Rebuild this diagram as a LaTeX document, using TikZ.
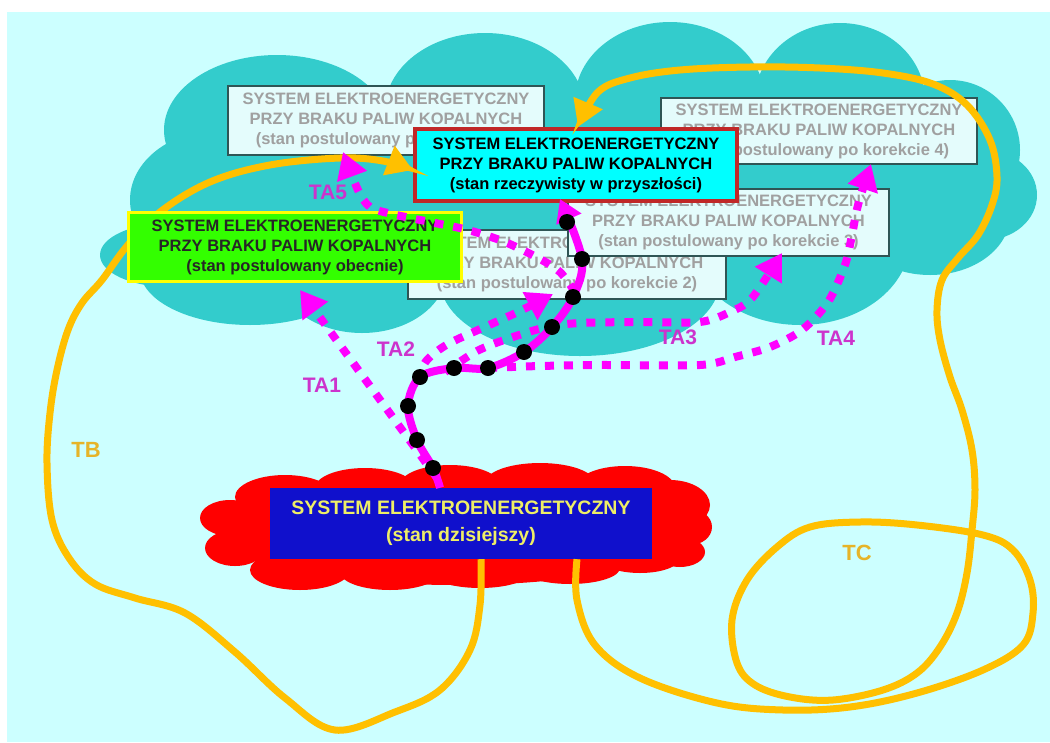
\documentclass[tikz,border=0pt]{standalone}
\usepackage{fontspec}
\setmainfont{Liberation Sans}
\usetikzlibrary{arrows.meta}
\definecolor{bgc}{RGB}{204,255,255}
\definecolor{cloudc}{RGB}{51,204,204}
\definecolor{redc}{RGB}{255,0,0}
\definecolor{gfill}{RGB}{228,252,252}
\definecolor{gbord}{RGB}{47,85,85}
\definecolor{gtext}{RGB}{160,160,160}
\definecolor{futfill}{RGB}{0,255,255}
\definecolor{futbord}{RGB}{192,40,40}
\definecolor{greenc}{RGB}{51,255,0}
\definecolor{yel}{RGB}{255,255,0}
\definecolor{bluec}{RGB}{16,16,204}
\definecolor{bluetext}{RGB}{238,238,102}
\definecolor{mag}{RGB}{255,0,255}
\definecolor{orng}{RGB}{255,192,0}
\definecolor{talab}{RGB}{204,51,204}
\definecolor{tblab}{RGB}{230,180,40}
\begin{document}
\begin{tikzpicture}[x=1pt,y=-1pt,
  boxfont/.style={font=\bfseries\fontsize{16.5}{20}\selectfont},
  graybox/.style={boxfont, draw=gbord, line width=2pt, fill=gfill, text=gtext, align=center, inner sep=0pt},
  futurebox/.style={boxfont, draw=futbord, line width=4pt, fill=futfill, text=black, align=center, inner sep=0pt},
  greenbox/.style={boxfont, draw=yel, line width=3pt, fill=greenc, text=black!85, align=center, inner sep=0pt},
  todaybox/.style={font=\bfseries\fontsize{19.5}{27}\selectfont, fill=bluec, text=bluetext, align=center, inner sep=0pt},
  tadash/.style={draw=mag, line width=8pt, dash pattern=on 9pt off 10pt, -{Triangle[length=26pt,width=30pt]}},
  mainpath/.style={draw=mag, line width=8pt, -{Triangle[length=22pt,width=26pt]}},
  blackdot/.style={circle, fill=black, inner sep=0pt, minimum size=16pt},
  orangeline/.style={draw=orng, line width=7pt, -{Triangle[length=26pt,width=30pt]}},
  talabel/.style={text=talab, font=\bfseries\fontsize{21}{24}\selectfont, inner sep=0pt},
  tlabel/.style={text=tblab, font=\bfseries\fontsize{22}{24}\selectfont, inner sep=0pt}
]
\useasboundingbox (0,0) rectangle (1050,742);
\fill[white] (0,0) rectangle (1050,742);
\fill[bgc] (7,12) rectangle (1050,742);

% teal cloud
\fill[cloudc] (200,130) rectangle (930,262);
\foreach \cx/\cy/\rx/\ry in {277/130/113/75, 485/110/100/77, 670/100/95/78, 840/100/85/77,
  950/150/70/70, 985/195/52/45, 220/200/90/70, 170/255/70/32, 250/270/110/55,
  362/270/85/63, 580/280/140/76, 800/240/110/85, 930/215/80/60}
  \fill[cloudc] (\cx,\cy) ellipse [x radius=\rx pt, y radius=\ry pt];

% red cloud
\fill[redc] (455,530) ellipse [x radius=240pt, y radius=55pt];
\foreach \cx/\cy/\rx/\ry in {285/497/50/22, 365/488/50/20, 450/485/50/20, 540/483/55/20,
  625/488/50/22, 670/505/40/25, 230/518/30/18, 235/548/30/18, 690/527/22/18, 680/552/25/15,
  300/570/50/20, 390/572/50/18, 480/572/50/16, 570/568/50/16, 640/558/40/15}
  \fill[redc] (\cx,\cy) ellipse [x radius=\rx pt, y radius=\ry pt];

% grey (postulated) boxes
\node[graybox, minimum width=318pt, minimum height=69pt] (k2) at (567,264)
  {SYSTEM ELEKTROENERGETYCZNY\\PRZY BRAKU PALIW KOPALNYCH\\(stan postulowany po korekcie 2)};
\node[graybox, minimum width=321pt, minimum height=67pt] (k3) at (728.5,222.5)
  {SYSTEM ELEKTROENERGETYCZNY\\PRZY BRAKU PALIW KOPALNYCH\\(stan postulowany po korekcie 3)};
\node[graybox, minimum width=316pt, minimum height=69pt] (k1) at (386,120.5)
  {SYSTEM ELEKTROENERGETYCZNY\\PRZY BRAKU PALIW KOPALNYCH\\(stan postulowany po korekcie 1)};
\node[graybox, minimum width=316pt, minimum height=66pt] (k4) at (819,131)
  {SYSTEM ELEKTROENERGETYCZNY\\PRZY BRAKU PALIW KOPALNYCH\\(stan postulowany po korekcie 4)};

% main boxes
\node[todaybox, minimum width=382pt, minimum height=71pt] (today) at (461,523.5)
  {SYSTEM ELEKTROENERGETYCZNY\\(stan dzisiejszy)};
\node[futurebox, minimum width=322pt, minimum height=72pt] (future) at (576,165)
  {SYSTEM ELEKTROENERGETYCZNY\\PRZY BRAKU PALIW KOPALNYCH\\(stan rzeczywisty w przyszłości)};

% orange curves TB and TC
\coordinate (tbS) at ([xshift=20pt]today.south);
\coordinate (tbE) at ([yshift=-5pt]future.west);
\coordinate (tcS) at ([xshift=116pt]today.south);
\coordinate (tcE) at ([xshift=2pt]future.north);
\draw[orangeline] plot[smooth, tension=0.6] coordinates {(tbS) (480,605) (470,650) (440,690) (395,712)
  (335,730) (285,698) (235,652) (185,613) (135,598) (95,584) (69,558) (52,520) (47,463) (50,413)
  (57,370) (68,330) (82,303) (102,280) (127,246) (160,212) (210,182) (270,165) (340,158) (383,161) (tbE)};
\draw[orangeline] plot[smooth, tension=0.6] coordinates {(tcS) (577,600) (595,645) (640,678) (717,703)
  (783,710) (850,707) (917,693) (983,670) (1023,645) (1033,613) (1030,580) (1013,550) (983,535)
  (917,525) (860,522) (810,527) (777,547) (747,580) (732,620) (737,663) (755,685) (790,697)
  (833,700) (883,690) (917,673) (940,647) (957,613) (967,573) (972,530) (975,490) (972,450)
  (962,410) (950,377) (940,340) (937,310) (942,280) (958,258) (978,235) (992,205) (997,177)
  (990,140) (967,105) (933,84) (883,73) (820,68) (750,67) (680,70) (630,78) (598,92) (tcE)};

\node[greenbox, minimum width=333pt, minimum height=69pt] (now) at (295,247)
  {SYSTEM ELEKTROENERGETYCZNY\\PRZY BRAKU PALIW KOPALNYCH\\(stan postulowany obecnie)};

% dotted transitions TA1..TA5
\coordinate (ta1s) at (437,478);  \coordinate (ta1e) at (300,290);
\coordinate (ta2s) at (416,380);  \coordinate (ta2e) at (553,294);
\coordinate (ta3s) at (445,372);  \coordinate (ta3e) at (782,253);
\coordinate (ta4s) at (488,368);  \coordinate (ta4e) at (871,164);
\coordinate (ta5s) at (575,292);  \coordinate (ta5e) at (343,152);
\draw[tadash] (ta1s) -- (ta1e);
\draw[tadash] plot[smooth] coordinates {(ta2s) (427,360) (448,344) (487,326) (520,311) (ta2e)};
\draw[tadash] plot[smooth] coordinates {(ta3s) (477,351) (510,338) (547,327) (580,323) (640,322)
  (700,322) (730,312) (752,298) (ta3e)};
\draw[tadash] plot[smooth] coordinates {(ta4s) (540,366) (600,365) (700,365) (735,357) (770,347)
  (802,330) (828,302) (845,265) (852,235) (858,205) (ta4e)};
\draw[tadash] plot[smooth] coordinates {(ta5s) (560,272) (540,259) (505,242) (468,230) (430,222)
  (392,214) (370,207) (358,190) (ta5e)};

% main path (solid, with black dots)
\coordinate (mS) at ([xshift=-21pt]today.north);
\coordinate (mE) at ([xshift=-16pt,yshift=4pt]future.south);
\draw[mainpath] plot[smooth, tension=0.55] coordinates {(mS) (433,468) (417,440) (408,406) (420,377)
  (454,368) (488,368) (524,352) (552,327) (573,297) (582,259) (mE)};
\foreach \x/\y [count=\i] in {567/222, 582/259, 573/297, 552/327, 524/352, 488/368, 454/368,
  420/377, 408/406, 417/440, 433/468}
  \node[blackdot] (dot\i) at (\x,\y) {};

% labels
\node[talabel] (lTA1) at (322,385) {TA1};
\node[talabel] (lTA2) at (396,349) {TA2};
\node[talabel] (lTA3) at (678,337) {TA3};
\node[talabel] (lTA4) at (836,338) {TA4};
\node[talabel] (lTA5) at (328,192) {TA5};
\node[tlabel] (lTB) at (86,450) {TB};
\node[tlabel] (lTC) at (857,553) {TC};
\end{tikzpicture}
\end{document}
